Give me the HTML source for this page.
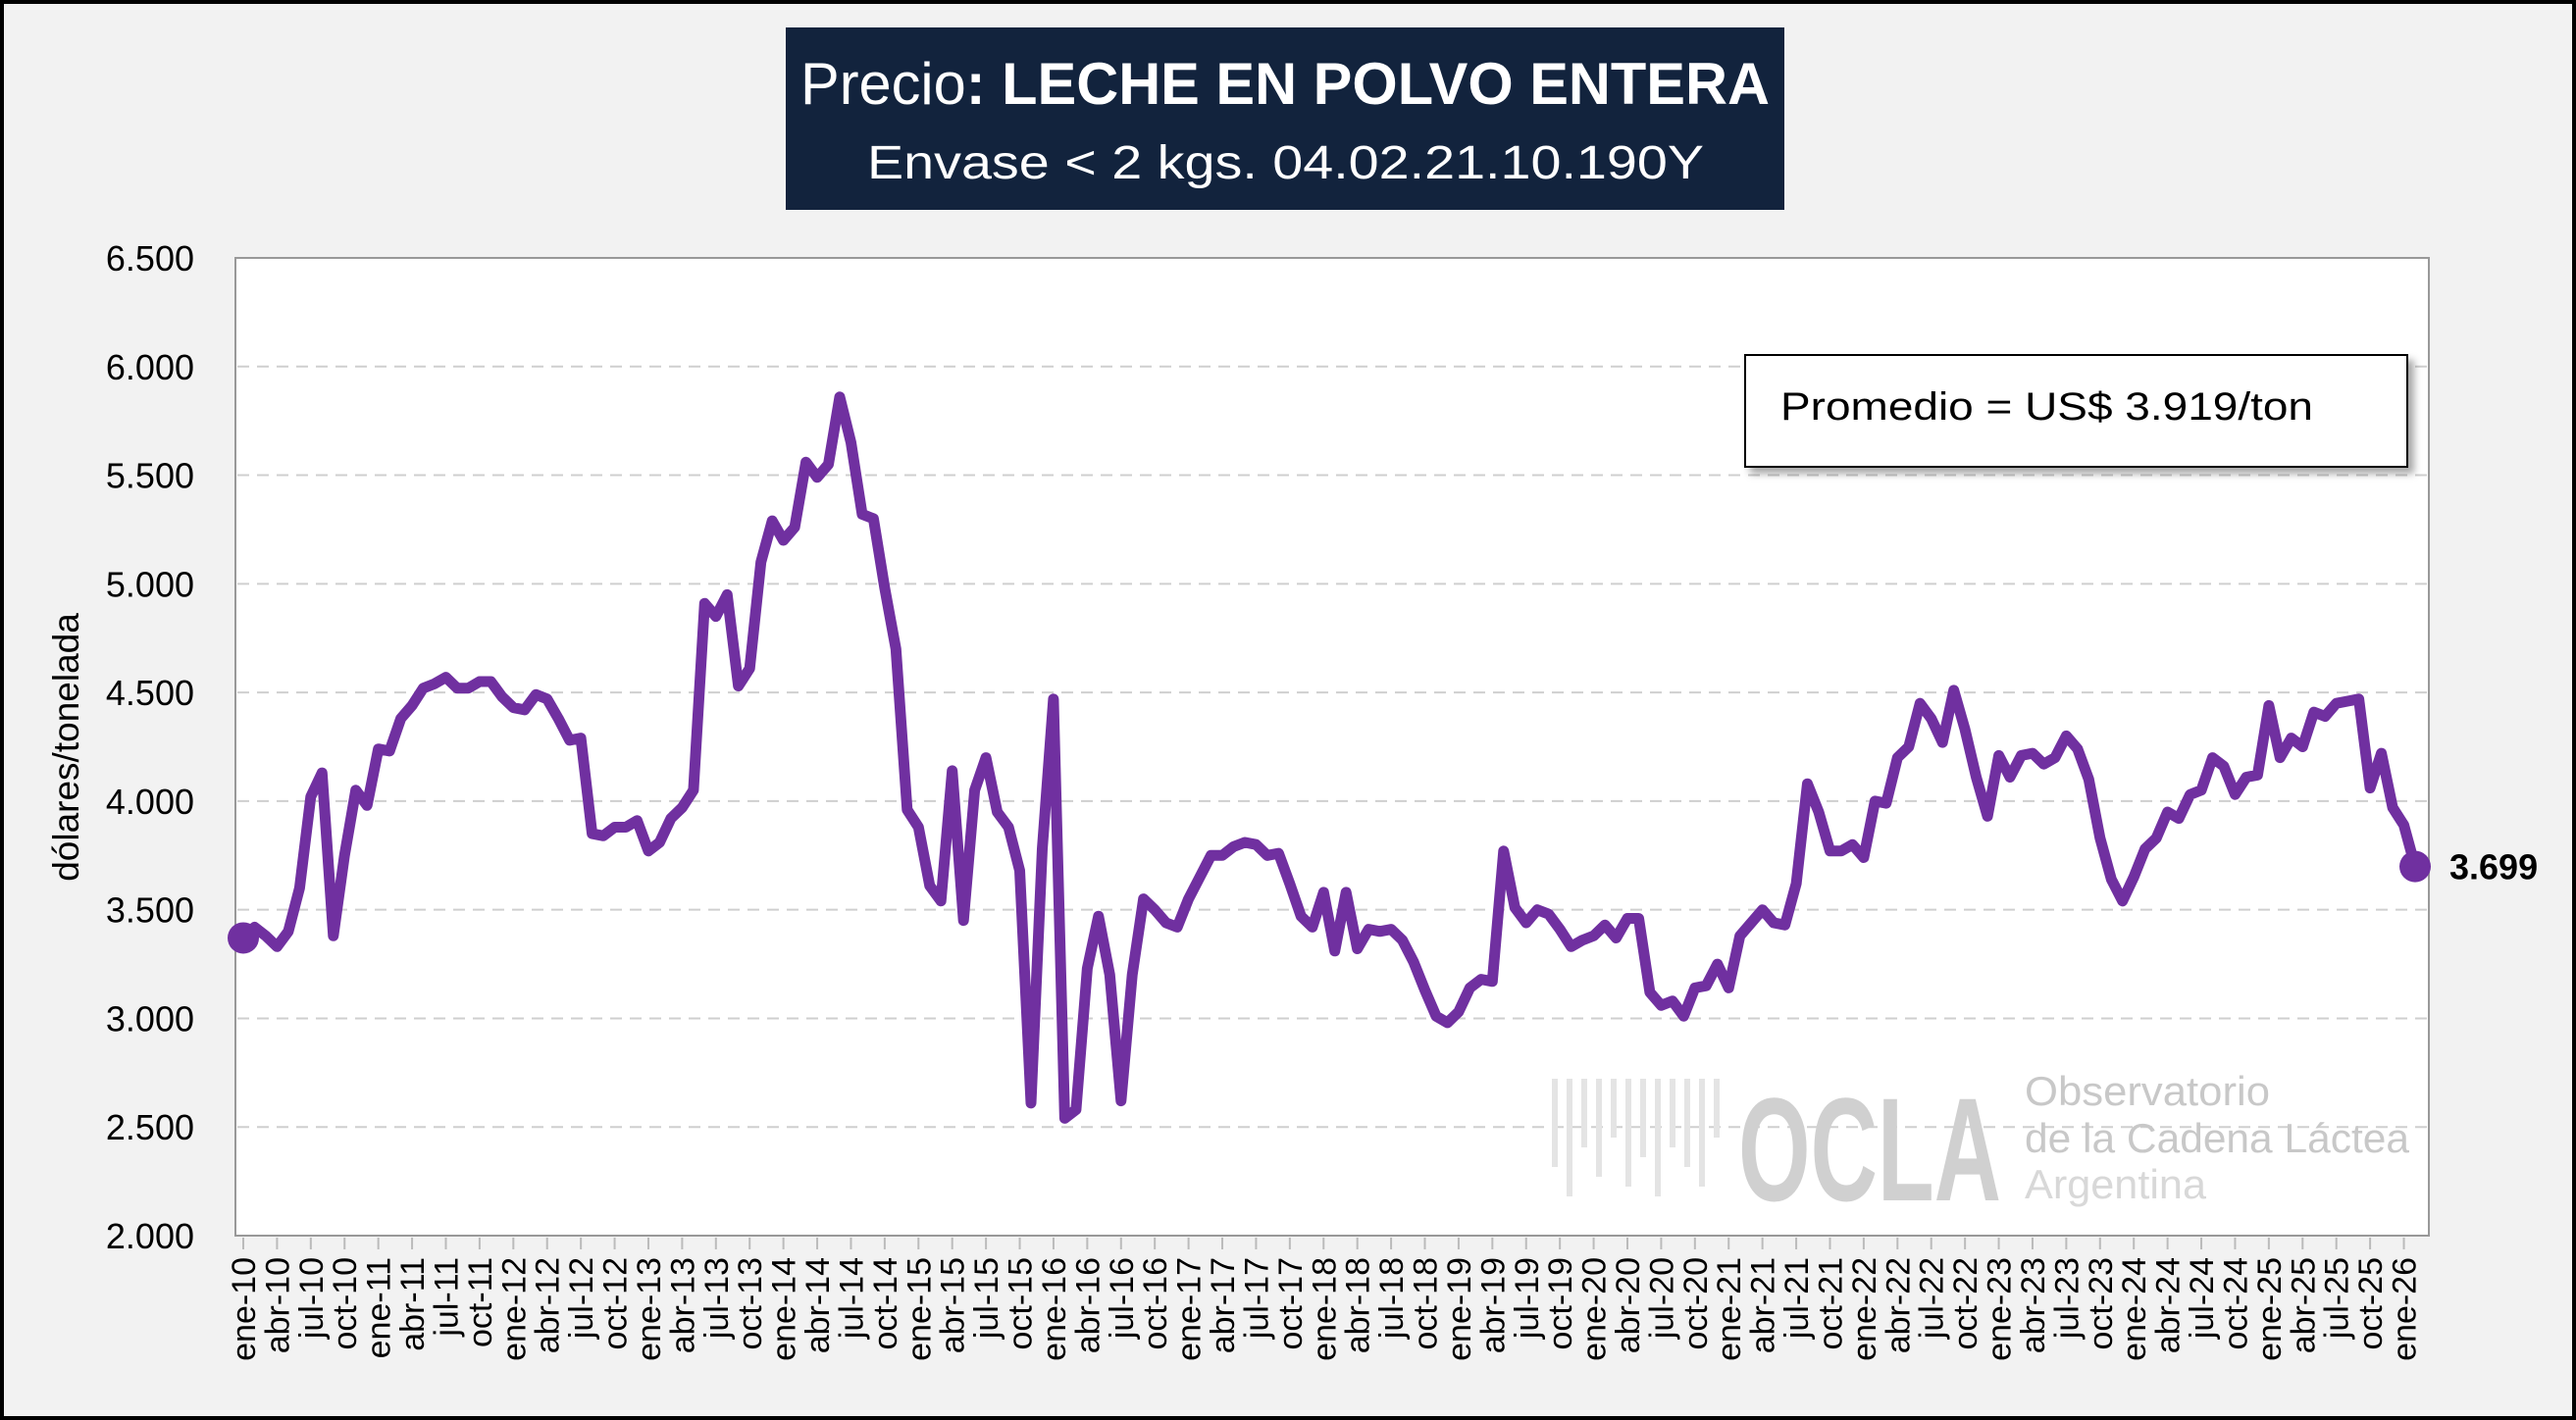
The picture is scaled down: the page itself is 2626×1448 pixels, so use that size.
<!DOCTYPE html>
<html><head><meta charset="utf-8"><style>
html,body{margin:0;padding:0;background:#f2f2f2}
svg{display:block}
text{font-family:"Liberation Sans",sans-serif}
</style></head><body>
<svg id="s" width="2626" height="1448" viewBox="0 0 2626 1448" xmlns="http://www.w3.org/2000/svg">
<rect x="2" y="2" width="2622" height="1444" fill="#f2f2f2" stroke="#000" stroke-width="4"/>
<rect x="801" y="28" width="1018" height="186" fill="#12233d"/>
<text x="816" y="106" font-size="60" fill="#fff" textLength="988" lengthAdjust="spacingAndGlyphs">Precio<tspan font-weight="bold">: LECHE EN POLVO ENTERA</tspan></text>
<text x="884" y="182" font-size="48" fill="#fff" textLength="853" lengthAdjust="spacingAndGlyphs">Envase &lt; 2 kgs. 04.02.21.10.190Y</text>
<rect x="240" y="263" width="2236" height="997" fill="#fff" stroke="#999" stroke-width="2"/>
<g id="grid"></g>
<g id="wm">
<text x="1772" y="1224" font-size="150" font-weight="bold" fill="#d0d0d0" textLength="268" lengthAdjust="spacingAndGlyphs">OCLA</text>
<text x="2064" y="1127" font-size="42" fill="#c8c8c8" textLength="250" lengthAdjust="spacingAndGlyphs">Observatorio</text>
<text x="2064" y="1175" font-size="42" fill="#c8c8c8" textLength="392" lengthAdjust="spacingAndGlyphs">de la Cadena Láctea</text>
<text x="2064" y="1222" font-size="42" fill="#d8d8d8" textLength="185" lengthAdjust="spacingAndGlyphs">Argentina</text>
<path d="M1585 1100 v90 M1600 1100 v120 M1615 1100 v70 M1630 1100 v100 M1645 1100 v60 M1660 1100 v110 M1675 1100 v80 M1690 1100 v120 M1705 1100 v70 M1720 1100 v90 M1735 1100 v110 M1750 1100 v60" stroke="#e4e4e4" stroke-width="6" fill="none"/>
</g>
<rect x="1779" y="362" width="675" height="114" fill="#fff" stroke="#000" stroke-width="2" style="filter:drop-shadow(6px 6px 4px rgba(0,0,0,.35))"/>
<text x="1815" y="428" font-size="40" fill="#000" textLength="543" lengthAdjust="spacingAndGlyphs">Promedio = US$ 3.919/ton</text>
<text transform="translate(80,762) rotate(-90)" font-size="37" text-anchor="middle" fill="#000">dólares/tonelada</text>
<g id="data"></g>
</svg>
<script>
var v=[3370,3420,3380,3330,3400,3600,4020,4130,3380,3750,4050,3980,4240,4230,4380,4440,4520,4540,4570,4520,4520,4550,4550,4480,4430,4420,4490,4470,4380,4280,4290,3850,3840,3880,3880,3910,3770,3810,3920,3970,4050,4910,4850,4950,4530,4610,5100,5290,5200,5260,5560,5490,5550,5860,5650,5320,5300,4980,4700,3960,3880,3610,3540,4140,3450,4050,4200,3950,3880,3680,2610,3780,4470,2540,2580,3230,3470,3200,2620,3200,3550,3500,3440,3420,3550,3650,3750,3750,3790,3810,3800,3750,3760,3620,3470,3420,3580,3310,3580,3320,3410,3400,3410,3360,3260,3130,3010,2980,3030,3140,3180,3170,3770,3510,3440,3500,3480,3410,3330,3360,3380,3430,3370,3460,3460,3120,3060,3080,3010,3140,3150,3250,3140,3380,3440,3500,3440,3430,3620,4080,3950,3770,3770,3800,3740,4000,3990,4200,4250,4450,4380,4270,4510,4330,4110,3930,4210,4110,4210,4220,4170,4200,4300,4240,4100,3830,3640,3540,3650,3780,3830,3950,3920,4030,4050,4200,4160,4030,4110,4120,4440,4200,4290,4250,4410,4390,4450,4460,4470,4060,4220,3970,3890,3699];
var NS="http://www.w3.org/2000/svg",s=document.getElementById('s');
function el(t,a,p,txt){var e=document.createElementNS(NS,t);for(var k in a)e.setAttribute(k,a[k]);if(txt!=null)e.textContent=txt;(p||s).appendChild(e);return e;}
var g=document.getElementById('grid'),d=document.getElementById('data');
function Y(val){return 1260-(val-2000)/4500*997;}
for(var i=0;i<=9;i++){var val=2000+i*500;var y=Y(val);
 if(i>0&&i<9)el('line',{x1:242,x2:2474,y1:y,y2:y,stroke:'#cfcfcf','stroke-width':2,'stroke-dasharray':'12,8'},g);
 el('text',{x:198,y:y+13,'font-size':36,'text-anchor':'end',fill:'#000'},s,(val/1000).toFixed(3));}
var n=v.length,x0=248,x1=2462,dx=(x1-x0)/(n-1);
var mo=['ene','abr','jul','oct'];
for(var i=0;i<n;i+=3){var x=x0+i*dx;
 el('line',{x1:x,x2:x,y1:1262,y2:1274,stroke:'#bbb','stroke-width':2});
 var yr=10+Math.floor(i/12);var lbl=mo[(i%12)/3]+'-'+yr;
 el('text',{transform:'translate('+(x+12)+',1282) rotate(-90)','font-size':34,'text-anchor':'end',fill:'#000'},s,lbl);}
var p='';for(var i=0;i<n;i++)p+=(i?'L':'M')+(x0+i*dx).toFixed(1)+' '+Y(v[i]).toFixed(1);
el('path',{d:p,fill:'none',stroke:'#7030a0','stroke-width':11,'stroke-linejoin':'round'},d);
el('circle',{cx:x0,cy:Y(v[0]),r:16,fill:'#7030a0'},d);
el('circle',{cx:x1,cy:Y(v[n-1]),r:16,fill:'#7030a0'},d);
el('text',{x:2497,y:Y(v[n-1])+13,'font-size':36,'font-weight':'bold',fill:'#000'},d,'3.699');
</script>
</body></html>
